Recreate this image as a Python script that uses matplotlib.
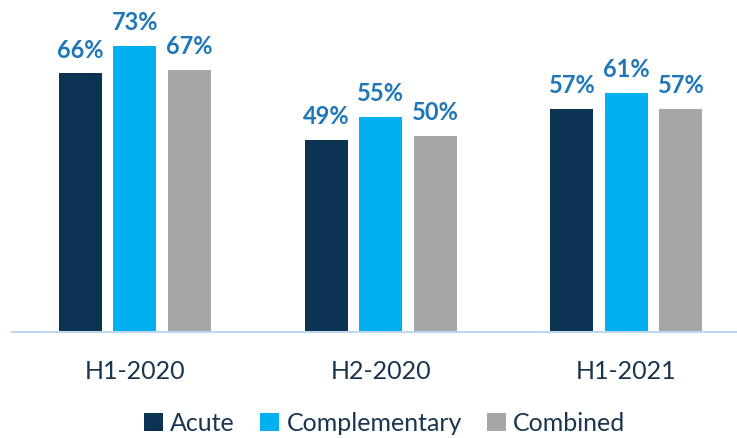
import numpy as np
import matplotlib.pyplot as plt

periods = ["H1-2020", "H2-2020", "H1-2021"]
series = ["Acute", "Complementary", "Combined"]
acute = [66, 49, 57]
complementary = [73, 55, 61]
combined = [67, 50, 57]
colors = ["#0B3352", "#00B0F0", "#A6A6A6"]

plt.rcParams['font.family'] = ['Lato', 'DejaVu Sans']

fig = plt.figure(figsize=(7.37, 4.38), dpi=100)
ax = fig.add_axes([0.0163, 0.242, 0.9837, 0.72])

x = np.arange(len(periods))
w = 0.175
off = 0.2215
vals = [acute, complementary, combined]
for i in range(3):
    bars = ax.bar(x + (i - 1) * off, vals[i], w, color=colors[i], label=series[i])
    for b, v in zip(bars, vals[i]):
        ax.text(b.get_x() + b.get_width() / 2, v + 3.0, f"{v}%", ha="center", va="bottom",
                fontsize=17, fontweight="bold", color="#1F77B8")

ax.set_xlim(-0.5, 2.45)
ax.set_ylim(0, 80.5)
for s in ["top", "right", "left"]:
    ax.spines[s].set_visible(False)
ax.spines["bottom"].set_color("#BDD7EE")
ax.spines["bottom"].set_linewidth(1.5)
ax.set_yticks([])
ax.set_xticks(x)
ax.set_xticklabels(periods, fontsize=18, color="#1A3550")
ax.tick_params(axis="x", length=0, pad=20)

fig.legend(loc="center", bbox_to_anchor=(0.522, 0.033), ncol=3, frameon=False,
           fontsize=18, handlelength=0.75, handleheight=0.75, handletextpad=0.3, columnspacing=1.0,
           labelcolor="#1A3550")

fig.savefig("out.png", dpi=100)
